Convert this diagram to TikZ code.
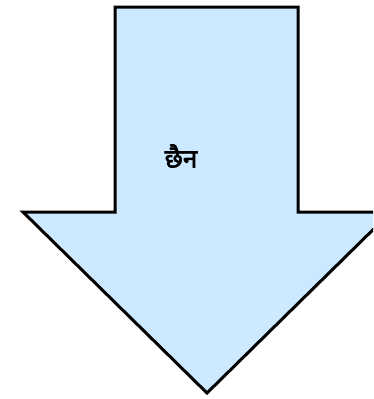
\documentclass[tikz,border=0pt]{standalone}
\usepackage{fontspec}
\newfontfamily\devfont[Script=Devanagari, AutoFakeBold=2.5]{Noto Sans}
\usepackage{tikz}
\definecolor{arrowfill}{HTML}{CCE9FF}
\tikzset{
  bigarrow/.style={draw=black, line width=3pt, fill=arrowfill, line join=miter},
  arrowtext/.style={font=\devfont\bfseries\fontsize{26}{30}\selectfont, inner sep=0pt},
}

\begin{document}
\begin{tikzpicture}[x=1pt, y=-1pt]
  \useasboundingbox (0,0) rectangle (373,399);
  \clip (0,0) rectangle (373,399);
  % down arrow
  \draw[bigarrow] (115,7) -- (298,7) -- (298,212) -- (391,212) -- (207,393)
    -- (23,212) -- (115,212) -- cycle;
  \node[arrowtext] (txt) at (181,156) {छैन};
\end{tikzpicture}
\end{document}
